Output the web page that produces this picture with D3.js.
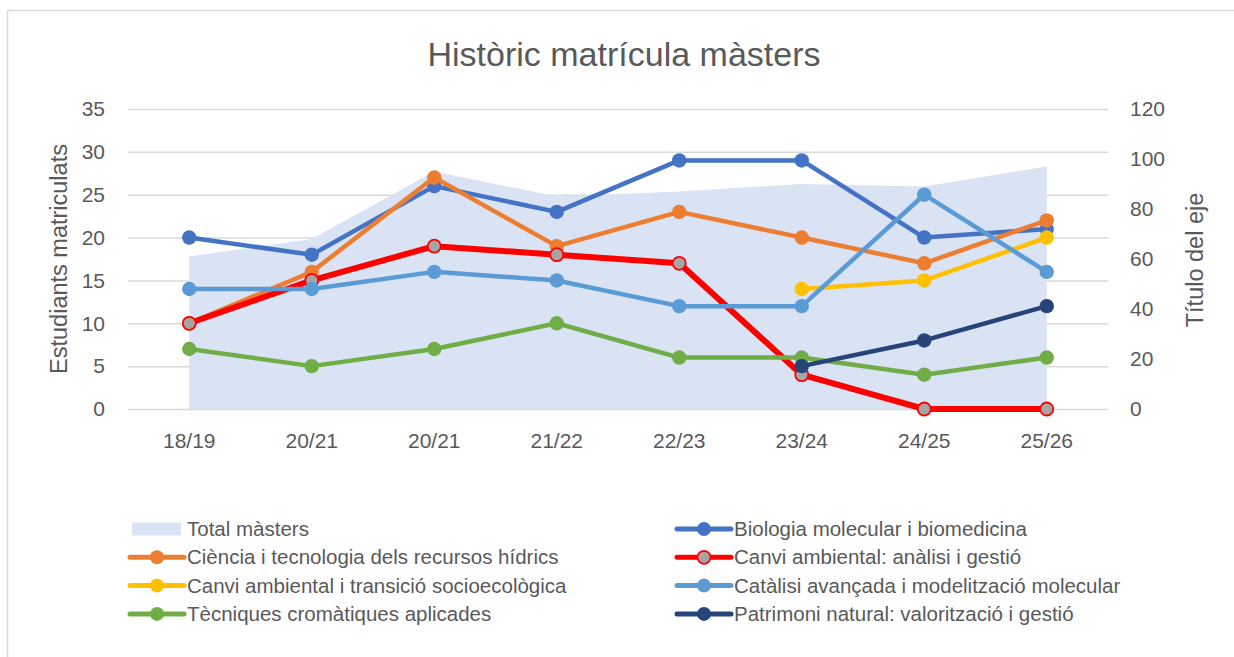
<!DOCTYPE html>
<html>
<head>
<meta charset="utf-8">
<script src="https://cdn.jsdelivr.net/npm/d3@7"></script>
<style>
  html, body { margin: 0; padding: 0; background: #fff; }
  #chart { width: 1234px; height: 657px; overflow: hidden; }
</style>
</head>
<body>
<div id="chart"></div>
<script>
// ── Data ─────────────────────────────────────
const courses = ["18/19","20/21","20/21","21/22","22/23","23/24","24/25","25/26"];

const totalMasters  = [61, 68, 95, 85, 87, 90, 89, 97];
const biologia      = [20, 18, 26, 23, 29, 29, 20, 21];
const ciencia       = [10, 16, 27, 19, 23, 20, 17, 22];
const canviAnalisi  = [10, 15, 19, 18, 17, 4, 0, 0];
const canviTransicio= [null, null, null, null, null, 14, 15, 20];
const catalisi      = [14, 14, 16, 15, 12, 12, 25, 16];
const tecniques     = [7, 5, 7, 10, 6, 6, 4, 6];
const patrimoni     = [null, null, null, null, null, 5, 8, 12];

const leftTicks  = [0, 5, 10, 15, 20, 25, 30, 35];
const rightTicks = [0, 20, 40, 60, 80, 100, 120];

(function () {

  const FONT  = "'Liberation Sans', Arial, sans-serif";
  const TEXT  = "#595959";
  const GRID  = "#D9D9D9";
  const AREA  = "#DAE3F3";

  const series = [
    { name: "Biologia molecular i biomedicina",            values: biologia,       color: "#4472C4", width: 4.5 },
    { name: "Ciència i tecnologia dels recursos hídrics",  values: ciencia,        color: "#ED7D31", width: 4.5 },
    { name: "Canvi ambiental: anàlisi i gestió",           values: canviAnalisi,   color: "#FF0000", width: 6, marker: "#A5A5A5" },
    { name: "Canvi ambiental i transició socioecològica",  values: canviTransicio, color: "#FFC000", width: 4.5 },
    { name: "Catàlisi avançada i modelització molecular",  values: catalisi,       color: "#5B9BD5", width: 4.5 },
    { name: "Tècniques cromàtiques aplicades",             values: tecniques,      color: "#70AD47", width: 4.5 },
    { name: "Patrimoni natural: valorització i gestió",    values: patrimoni,      color: "#264478", width: 4.5 }
  ];

  const W = 1234, H = 657;
  const plot = { left: 128, right: 1108, top: 109, bottom: 409 };

  const svg = d3.select("#chart").append("svg")
    .attr("width", W).attr("height", H)
    .style("font-family", FONT);

  // chart frame (only top/left edges fall inside the picture)
  svg.append("rect").attr("x", 7.5).attr("y", 10.5)
    .attr("width", 1300).attr("height", 700)
    .attr("fill", "#fff").attr("stroke", GRID).attr("stroke-width", 1.5);

  // ── Scales ───────────────────────────────────
  const x = d3.scaleBand()
    .domain(courses.map((d, i) => i))
    .range([plot.left, plot.right]);
  const cx = i => x(i) + x.bandwidth() / 2;

  const yL = d3.scaleLinear().domain([0, 35]).range([plot.bottom, plot.top]);
  const yR = d3.scaleLinear().domain([0, 120]).range([plot.bottom, plot.top]);

  // ── Title ────────────────────────────────────
  svg.append("text").attr("x", 624).attr("y", 66)
    .attr("text-anchor", "middle").attr("font-size", "34px")
    .attr("fill", TEXT).text("Històric matrícula màsters");

  // ── Grid ─────────────────────────────────────
  svg.append("g").attr("transform", `translate(${plot.left},0)`)
    .call(d3.axisLeft(yL).tickValues(leftTicks).tickSize(-(plot.right - plot.left)).tickFormat(""))
    .call(g => {
      g.select(".domain").remove();
      g.selectAll(".tick line").attr("stroke", GRID).attr("stroke-width", 1.5);
    });

  // ── Area (secondary axis) ────────────────────
  const area = d3.area()
    .x((d, i) => cx(i))
    .y0(yR(0))
    .y1(d => yR(d));
  svg.append("path").datum(totalMasters)
    .attr("d", area).attr("fill", AREA);

  // ── Lines ────────────────────────────────────
  const line = d3.line()
    .defined(d => d != null)
    .x((d, i) => cx(i))
    .y(d => yL(d));

  series.forEach(s => {
    svg.append("path").datum(s.values)
      .attr("d", line).attr("fill", "none")
      .attr("stroke", s.color).attr("stroke-width", s.width)
      .attr("stroke-linejoin", "round");
    svg.append("g").selectAll("circle")
      .data(s.values.map((v, i) => ({ v, i })).filter(d => d.v != null))
      .join("circle")
      .attr("cx", d => cx(d.i)).attr("cy", d => yL(d.v))
      .attr("r", s.marker ? 6.5 : 7.2)
      .attr("fill", s.marker || s.color)
      .attr("stroke", s.marker ? s.color : "none")
      .attr("stroke-width", 1.8);
  });

  // ── Axes ─────────────────────────────────────
  const styleTicks = g => {
    g.select(".domain").remove();
    g.selectAll(".tick line").remove();
    g.selectAll("text").attr("font-family", FONT).attr("font-size", "21px").attr("fill", TEXT);
  };

  svg.append("g").attr("transform", "translate(105,0)")
    .call(d3.axisLeft(yL).tickValues(leftTicks).tickSize(0).tickPadding(0))
    .call(styleTicks);

  svg.append("g").attr("transform", "translate(1130,0)")
    .call(d3.axisRight(yR).tickValues(rightTicks).tickSize(0).tickPadding(0))
    .call(styleTicks);

  svg.append("g").attr("transform", `translate(0,${plot.bottom + 24})`)
    .call(d3.axisBottom(x).tickSize(0).tickPadding(0).tickFormat(i => courses[i]))
    .call(styleTicks);

  // axis titles
  svg.append("text").attr("transform", "translate(67,259) rotate(-90)")
    .attr("text-anchor", "middle").attr("font-size", "23.5px").attr("fill", TEXT)
    .text("Estudiants matriculats");
  svg.append("text").attr("transform", "translate(1203,260) rotate(-90)")
    .attr("text-anchor", "middle").attr("font-size", "23.5px").attr("fill", TEXT)
    .text("Título del eje");

  // ── Legend ───────────────────────────────────
  const legendItems = [{ name: "Total màsters", area: true }].concat(series);
  const colX = [130, 677], rowY0 = 529, rowStep = 28.3;

  legendItems.forEach((s, k) => {
    const lx = colX[k % 2], ly = rowY0 + Math.floor(k / 2) * rowStep;
    const g = svg.append("g").attr("transform", `translate(${lx},${ly})`);
    if (s.area) {
      g.append("rect").attr("x", 2).attr("y", -6.5).attr("width", 49).attr("height", 13).attr("fill", AREA);
    } else {
      g.append("line").attr("x1", 0).attr("x2", 54)
        .attr("stroke", s.color).attr("stroke-width", 5).attr("stroke-linecap", "round");
      g.append("circle").attr("cx", 27).attr("r", s.marker ? 6.5 : 7)
        .attr("fill", s.marker || s.color)
        .attr("stroke", s.marker ? s.color : "none").attr("stroke-width", 1.8);
    }
    g.append("text").attr("x", 57).attr("dy", "0.35em")
      .attr("font-size", "20.5px").attr("fill", TEXT).text(s.name);
  });

})();
</script>
</body>
</html>
